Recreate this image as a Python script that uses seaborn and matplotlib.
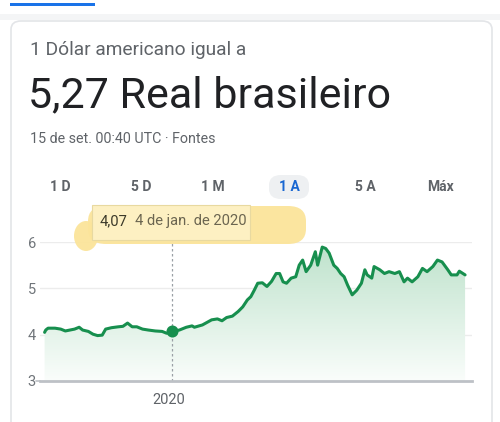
import numpy as np
import pandas as pd
import matplotlib
matplotlib.use('Agg')
import matplotlib.pyplot as plt
import matplotlib.dates as mdates
from matplotlib.patches import FancyBboxPatch, Ellipse, Rectangle
import seaborn as sns

# USD -> BRL, last 12 months
dates = ['2019-09-15', '2019-09-16', '2019-09-18', '2019-09-24', '2019-09-29', '2019-10-03',
         '2019-10-07', '2019-10-11', '2019-10-15', '2019-10-18', '2019-10-23', '2019-10-27',
         '2019-10-31', '2019-11-04', '2019-11-07', '2019-11-12', '2019-11-18', '2019-11-22',
         '2019-11-26', '2019-11-30', '2019-12-04', '2019-12-09', '2019-12-14', '2019-12-20',
         '2019-12-26', '2019-12-30', '2020-01-04', '2020-01-10', '2020-01-16', '2020-01-21',
         '2020-01-23', '2020-01-30', '2020-02-07', '2020-02-12', '2020-02-16', '2020-02-20',
         '2020-02-25', '2020-03-01', '2020-03-05', '2020-03-09', '2020-03-12', '2020-03-15',
         '2020-03-18', '2020-03-22', '2020-03-26', '2020-03-30', '2020-04-03', '2020-04-06',
         '2020-04-09', '2020-04-12', '2020-04-16', '2020-04-20', '2020-04-23', '2020-04-26',
         '2020-04-29', '2020-05-03', '2020-05-07', '2020-05-09', '2020-05-13', '2020-05-16',
         '2020-05-19', '2020-05-23', '2020-05-26', '2020-05-29', '2020-06-01', '2020-06-04',
         '2020-06-08', '2020-06-12', '2020-06-16', '2020-06-19', '2020-06-21', '2020-06-25',
         '2020-06-27', '2020-07-02', '2020-07-06', '2020-07-10', '2020-07-15', '2020-07-19',
         '2020-07-23', '2020-07-26', '2020-07-30', '2020-08-04', '2020-08-08', '2020-08-12',
         '2020-08-17', '2020-08-21', '2020-08-25', '2020-08-30', '2020-09-02', '2020-09-07',
         '2020-09-09', '2020-09-14']
rates = [4.05, 4.10, 4.14, 4.14, 4.12, 4.08,
         4.10, 4.12, 4.16, 4.10, 4.07, 4.01,
         3.98, 3.99, 4.12, 4.15, 4.17, 4.18,
         4.25, 4.17, 4.17, 4.12, 4.10, 4.08,
         4.07, 4.03, 4.07, 4.10, 4.16, 4.19,
         4.16, 4.21, 4.32, 4.34, 4.30, 4.37,
         4.40, 4.50, 4.60, 4.75, 4.82, 4.96,
         5.11, 5.12, 5.04, 5.15, 5.32, 5.32,
         5.14, 5.11, 5.22, 5.25, 5.50, 5.61,
         5.36, 5.50, 5.79, 5.50, 5.89, 5.86,
         5.76, 5.50, 5.43, 5.32, 5.25, 5.07,
         4.86, 4.96, 5.11, 5.40, 5.29, 5.22,
         5.47, 5.40, 5.32, 5.36, 5.32, 5.36,
         5.14, 5.22, 5.14, 5.25, 5.43, 5.36,
         5.47, 5.61, 5.57, 5.40, 5.29, 5.29,
         5.37, 5.29]
yticks = [3, 4, 5, 6]
ranges = ['1 D', '5 D', '1 M', '1 A', '5 A', 'Máx']
active_range = '1 A'
sel_date = '2020-01-04'
sel_rate = 4.07

df = pd.DataFrame({'date': pd.to_datetime(dates), 'rate': rates})

sns.set_theme(style='white')
plt.rcParams['font.family'] = ['Roboto', 'DejaVu Sans']

W, H = 500, 422
fig = plt.figure(figsize=(W / 100, H / 100), dpi=100)
fig.patch.set_facecolor('white')


def fx(x):
    return x / W


def fy(y):
    return 1 - y / H


def add_patch(p, z):
    p.set_zorder(z)
    fig.patches.append(p)


# page chrome: tab underline, header shadow, card (drawn below the axes)
add_patch(Rectangle((fx(0), fy(20)), 1, fy(14) - fy(20), transform=fig.transFigure,
                    facecolor='#f4f5f6', edgecolor='none'), -10)
add_patch(Rectangle((fx(10), fy(6)), fx(85), fy(3) - fy(6), transform=fig.transFigure,
                    facecolor='#1a73e8', edgecolor='none'), -10)
add_patch(FancyBboxPatch((fx(11), fy(440)), fx(481), fy(21) - fy(440),
                         boxstyle='round,pad=0,rounding_size=0.02',
                         transform=fig.transFigure, facecolor='white',
                         edgecolor='#e3e5e8', linewidth=1.2), -9)

fig.text(fx(30), fy(50), '1 Dólar americano igual a', fontsize=13.8, color='#5f6368', va='center')
fig.text(fx(28), fy(96), '5,27 Real brasileiro', fontsize=31, color='#202124', va='center')
fig.text(fx(30), fy(139), '15 de set. 00:40 UTC · Fontes', fontsize=10.3, color='#5f6368', va='center')

range_x = [60, 141, 213, 289, 365, 441]
for lab, x in zip(ranges, range_x):
    if lab == active_range:
        add_patch(FancyBboxPatch((fx(x - 20), fy(199)), fx(40), fy(175) - fy(199),
                                 boxstyle='round,pad=0,rounding_size=0.024',
                                 transform=fig.transFigure, facecolor='#eef0f2',
                                 edgecolor='none'), -8)
        col = '#1967d2'
    else:
        col = '#5f6368'
    fig.text(fx(x), fy(187), lab, fontsize=10, color=col, ha='center', va='center', fontweight='bold')

ax = fig.add_axes([fx(40), fy(381), fx(432), fy(242) - fy(381)])
x0 = pd.Timestamp('2019-09-11')
x1 = pd.Timestamp('2020-09-20')
ax.set_xlim(x0, x1)
ax.set_ylim(3, 6)

# gradient area under the line
poly = ax.fill_between(df['date'], df['rate'], 3, color='none', linewidth=0)
grad = np.linspace(1, 0, 256).reshape(-1, 1)
cmap = matplotlib.colors.LinearSegmentedColormap.from_list('g', ['#fafdfb', '#bde2cb'])
img = ax.imshow(grad, cmap=cmap, aspect='auto', origin='upper',
                extent=[mdates.date2num(x0), mdates.date2num(x1), 3, 6], zorder=1)
img.set_clip_path(poly.get_paths()[0], transform=ax.transData)

for v in yticks[1:]:
    ax.axhline(v, color='#ececec', linewidth=1, zorder=0.5)

sns.lineplot(data=df, x='date', y='rate', ax=ax, color='#178f4e', linewidth=2.2, zorder=3)

ax.axvline(pd.Timestamp(sel_date), ymin=0, ymax=1.02, color='#9aa0a6', linestyle=(0, (2, 2)),
           linewidth=0.9, zorder=2, clip_on=False)
ax.scatter([pd.Timestamp(sel_date)], [sel_rate], s=75, color='#178f4e', zorder=4, linewidths=0)

for s in ['top', 'right', 'left']:
    ax.spines[s].set_visible(False)
ax.spines['bottom'].set_color('#bdc1c6')
ax.spines['bottom'].set_linewidth(2)
ax.set_xlabel('')
ax.set_ylabel('')
ax.set_facecolor('none')

ax.set_yticks(yticks)
ax.set_yticklabels([str(v) for v in yticks], fontsize=10.5, color='#70757a')
ax.tick_params(axis='y', length=0, pad=3)
ax.set_xticks([pd.Timestamp('2020-01-01')])
ax.set_xticklabels(['2020'], fontsize=10.5, color='#5f6368')
ax.tick_params(axis='x', length=7.5, width=1.2, color='#bdc1c6', pad=1.5)
ax.plot([-0.01, 0], [0, 0], transform=ax.transAxes, color='#bdc1c6', linewidth=1.2, clip_on=False)

# highlighted tooltip (above the axes)
hl = '#fbe49a'
add_patch(FancyBboxPatch((fx(88), fy(244)), fx(218), fy(206) - fy(244),
                         boxstyle='round,pad=0,rounding_size=0.036',
                         transform=fig.transFigure, facecolor=hl, edgecolor='none',
                         alpha=0.95), 5)
add_patch(Ellipse((fx(86), fy(236)), fx(24), fy(222) - fy(252), transform=fig.transFigure,
                  facecolor=hl, edgecolor='none', alpha=0.95), 5)
add_patch(Rectangle((fx(92), fy(240)), fx(158), fy(205) - fy(240), transform=fig.transFigure,
                    facecolor='#fdf0c2', edgecolor='#e8d9a0', linewidth=0.8), 6)
fig.text(fx(100), fy(221), '4,07', fontsize=10.6, color='#3c3a2a', va='center', zorder=7)
fig.text(fx(135), fy(221), '4 de jan. de 2020', fontsize=10.6, color='#6b6550', va='center', zorder=7)

fig.savefig('out.png', dpi=100)
